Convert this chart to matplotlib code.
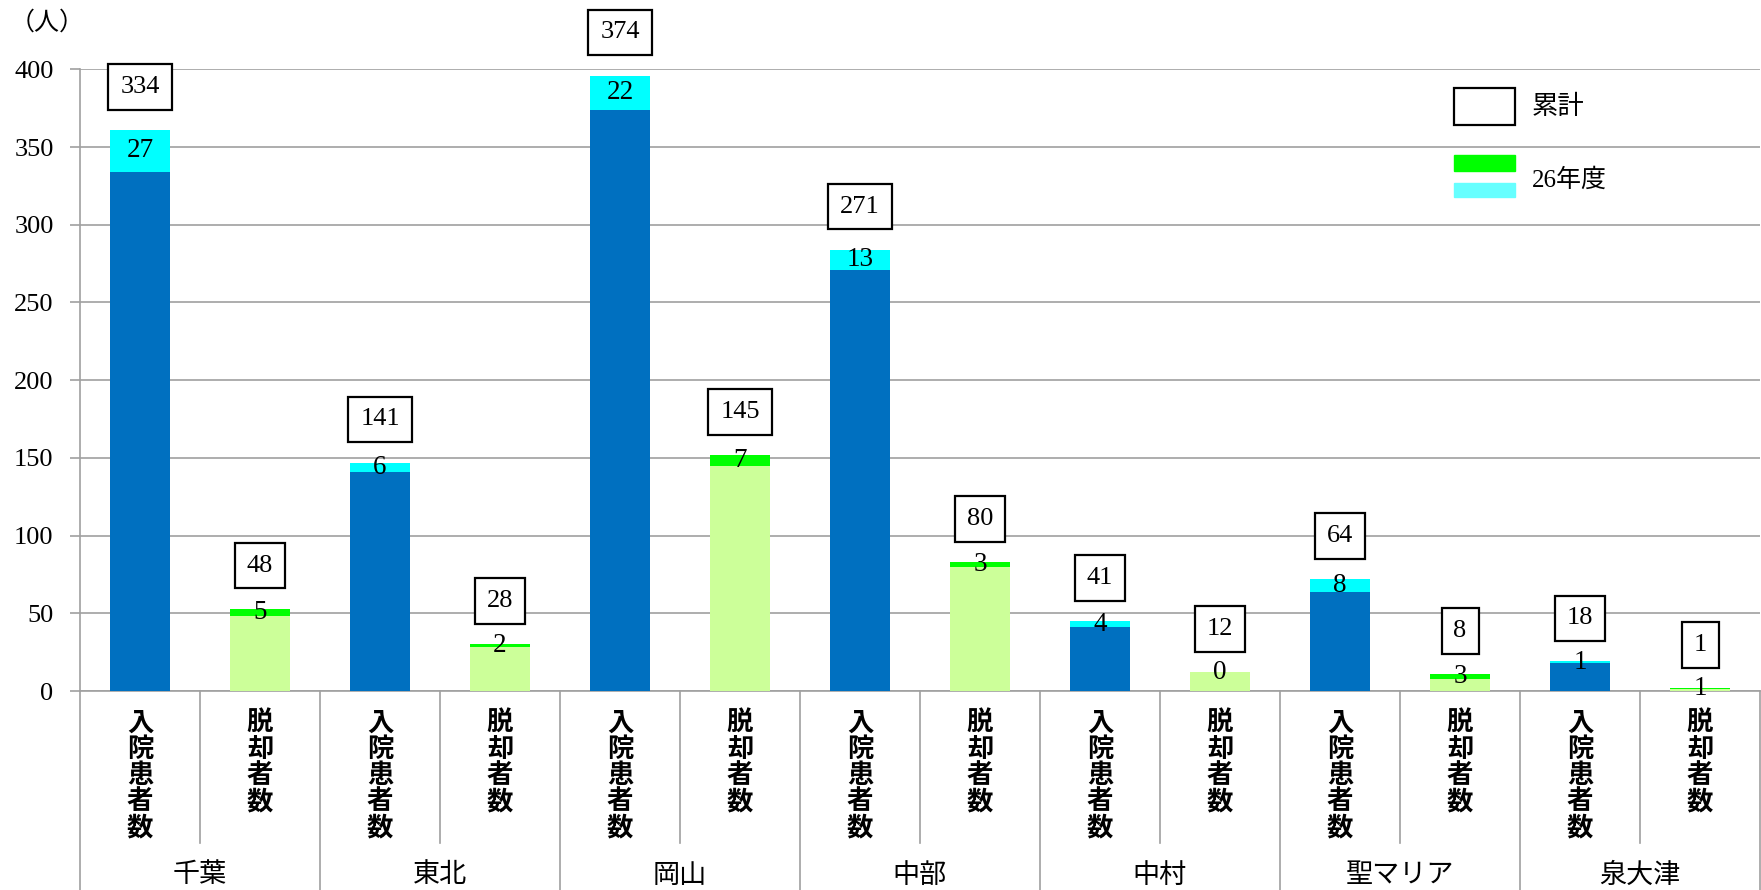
import matplotlib
matplotlib.use("Agg")
import matplotlib.pyplot as plt
from matplotlib.patches import Rectangle

# data
hospitals = ["千葉", "東北", "岡山", "中部", "中村", "聖マリア", "泉大津"]
kinds = ["入院患者数", "脱却者数"]
admit_total = [334, 141, 374, 271, 41, 64, 18]   # 累計 入院患者数
admit_h26 = [27, 6, 22, 13, 4, 8, 1]             # 26年度 入院患者数
escape_total = [48, 28, 145, 80, 12, 8, 1]       # 累計 脱却者数
escape_h26 = [5, 2, 7, 3, 0, 3, 1]               # 26年度 脱却者数
yticks = [0, 50, 100, 150, 200, 250, 300, 350, 400]

W, H = 1761, 890
SERIF = "Liberation Serif"
GOTHIC = "Noto Sans CJK JP"
GRID = "#a0a0a0"

fig = plt.figure(figsize=(W / 100, H / 100), dpi=100)
ax = fig.add_axes([80 / W, (H - 691) / H, 1680 / W, (691 - 69.3) / H])

# interleave the two kinds per hospital
base, top, base_col, top_col = [], [], [], []
for i in range(len(hospitals)):
    base += [admit_total[i], escape_total[i]]
    top += [admit_h26[i], escape_h26[i]]
    base_col += ["#0070c0", "#ccff99"]
    top_col += ["#00ffff", "#00ff00"]
xs = list(range(len(base)))

ax.bar(xs, base, width=0.5, color=base_col, zorder=3)
ax.bar(xs, top, width=0.5, bottom=base, color=top_col, zorder=3)

for x, b, t in zip(xs, base, top):
    # 26年度 value in the middle of the top piece
    ax.text(x, b + t / 2, str(t), ha="center", va="center", fontsize=19.5,
            family=SERIF, zorder=5)
    # boxed cumulative value above the bar
    ax.annotate(str(b), (x, b + t), xytext=(0, 31), textcoords="offset points",
                ha="center", va="center", fontsize=19, family=SERIF, zorder=5,
                bbox=dict(boxstyle="square,pad=0.45", fc="white", ec="black", lw=1.6))

ax.set_xlim(-0.5, len(xs) - 0.5)
ax.set_ylim(0, 400)
ax.set_yticks(yticks)
ax.set_yticklabels([str(v) for v in yticks], family=SERIF, fontsize=19)
ax.yaxis.grid(True, color=GRID, lw=1.2, zorder=0)
ax.tick_params(axis="y", length=7, color=GRID, width=1.2, pad=12)
ax.tick_params(axis="x", length=0, labelbottom=False)
for s in ["top", "right"]:
    ax.spines[s].set_visible(False)
for s in ["bottom", "left"]:
    ax.spines[s].set_color(GRID)
    ax.spines[s].set_linewidth(1.2)

# two-level category axis
tr = ax.get_xaxis_transform()
cat_bottom = -(843 - 691) / 621.7
grp_bottom = -(H - 691) / 621.7
for k in range(len(xs) + 1):
    y0 = grp_bottom if k % 2 == 0 else cat_bottom
    ax.plot([k - 0.5, k - 0.5], [0, y0], color=GRID, lw=1.2, transform=tr,
            clip_on=False)
for x in xs:
    label = kinds[x % 2]
    ax.text(x, -0.03, "\n".join(label), transform=tr, ha="center", va="top",
            fontsize=19, family=GOTHIC, weight="bold", linespacing=0.96)
for g, name in enumerate(hospitals):
    ax.text(2 * g + 0.5, -(875 - 691) / 621.7, name, transform=tr, ha="center",
            va="center", fontsize=19.5, family=GOTHIC)

fig.text(10 / W, 1 - 23 / H, "（人）", fontsize=18, family=GOTHIC, va="center")

# legend drawn by hand like the original
fig.patches.append(Rectangle((1454 / W, 1 - 125 / H), 61 / W, 37 / H, fill=False,
                             ec="black", lw=1.6, transform=fig.transFigure))
fig.patches.append(Rectangle((1454 / W, 1 - 171 / H), 61 / W, 16 / H, color="#00ff00",
                             transform=fig.transFigure))
fig.patches.append(Rectangle((1454 / W, 1 - 197 / H), 61 / W, 14 / H, color="#66ffff",
                             transform=fig.transFigure))
fig.text(1532 / W, 1 - 106 / H, "累計", fontsize=19, family=GOTHIC, va="center")
fig.text(1532 / W, 1 - 180 / H, "26年度", fontsize=18, family=[SERIF, GOTHIC],
         va="center")

fig.savefig("out.png", dpi=100)
